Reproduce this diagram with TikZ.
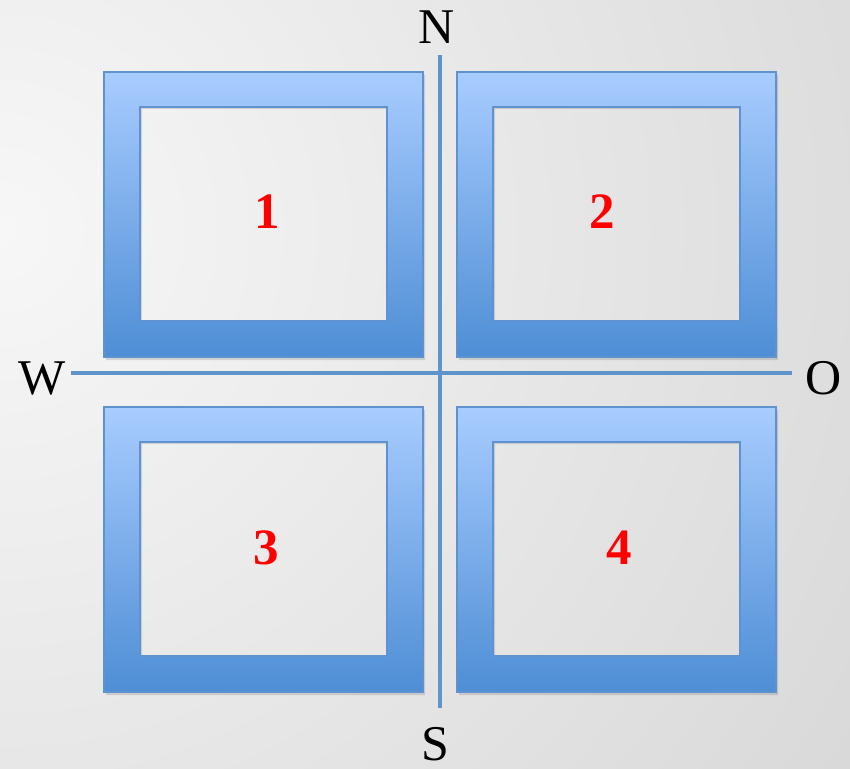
\documentclass[tikz,border=0pt]{standalone}
\usepackage{fontspec}
\setmainfont{Liberation Serif}
\begin{document}
\begin{tikzpicture}[x=1pt,y=-1pt,
  framefill/.style={top color=frametop, bottom color=framebot, even odd rule},
  frameline/.style={draw=frameedge, line width=1.2pt},
  axis/.style={draw=axiscol, line width=4pt},
  compass/.style={font=\fontsize{50}{50}\selectfont, text=black, inner sep=0pt},
  numlabel/.style={font=\fontsize{51}{51}\selectfont\bfseries, text=red, inner sep=0pt}]
\definecolor{frametop}{HTML}{A8CCFF}
\definecolor{framebot}{HTML}{4E8ED5}
\definecolor{frameedge}{HTML}{5E92D0}
\definecolor{axiscol}{HTML}{5F93CC}
\definecolor{bgin}{HTML}{F7F7F7}
\definecolor{bgout}{HTML}{D6D6D6}
\useasboundingbox (0,0) rectangle (850,768);
\begin{scope}
\clip (0,0) rectangle (850,768);
\shade[inner color=bgin, outer color=bgout] (0,230) circle (1100);
\end{scope}
% shadows
\foreach \x/\y in {104/72,457/72,104/407,457/407}{
  \fill[black, opacity=0.12, even odd rule] (\x+2,\y+3) rectangle (\x+321,\y+288) (\x+38,\y+37) rectangle (\x+285,\y+251);
}
% frames
\foreach \x/\y in {104/72,457/72,104/407,457/407}{
  \shade[framefill] (\x,\y) rectangle (\x+319,\y+285) (\x+36,\y+35) rectangle (\x+283,\y+249);
  \draw[frameline] (\x,\y) rectangle (\x+319,\y+285);
  \draw[frameline] (\x+36,\y+35) rectangle (\x+283,\y+249);
}
% axes
\coordinate (ntop) at (440,55);
\coordinate (sbot) at (440,708);
\coordinate (wend) at (71,373);
\coordinate (oend) at (792,373);
\draw[axis] (ntop) -- (sbot);
\draw[axis] (wend) -- (oend);
% compass labels
\node[compass] (N) at (437,27) {N};
\node[compass] (S) at (435,744) {S};
\node[compass] (W) at (42,379) {W};
\node[compass] (O) at (824,378) {O};
% numbers
\node[numlabel] (n1) at (267,212) {1};
\node[numlabel] (n2) at (602,212) {2};
\node[numlabel] (n3) at (266,548) {3};
\node[numlabel] (n4) at (619,548) {4};
\end{tikzpicture}
\end{document}
